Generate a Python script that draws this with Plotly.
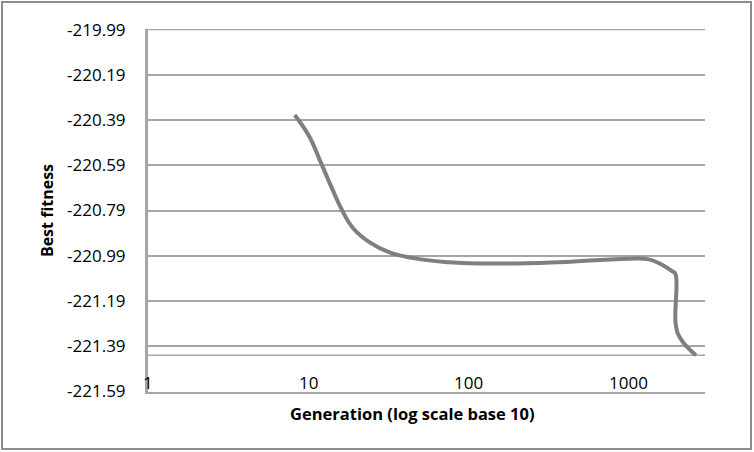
import plotly.graph_objects as go
import numpy as np

# Data
generations = [8.24, 10.2, 11.8, 14.2, 16.2, 18.9, 24.2, 32.2, 49.5, 76, 100, 200, 400, 1000, 1342, 1617, 1866, 1960, 1975, 2125, 2633]
best_fitness = [-220.368, -220.465, -220.566, -220.698, -220.786, -220.865, -220.931, -220.975, -221.005, -221.019, -221.023, -221.024, -221.018, -221.003, -221.006, -221.030, -221.058, -221.070, -221.30, -221.36, -221.43]

y_ticks = [-219.99, -220.19, -220.39, -220.59, -220.79, -220.99, -221.19, -221.39, -221.59]
x_ticks = [1, 10, 100, 1000]
axis_cross_value = -221.43

fig = go.Figure()
fig.add_trace(go.Scatter(
    x=generations, y=best_fitness, mode="lines",
    line=dict(color="#7f7f7f", width=4, shape="spline", smoothing=1.2),
    showlegend=False, hoverinfo="skip"))

grid_color = "#a6a6a6"
for yv in [axis_cross_value, y_ticks[0]]:
    fig.add_shape(type="line", xref="paper", x0=0, x1=1, yref="y",
                  y0=yv, y1=yv,
                  line=dict(color=grid_color, width=1.5), layer="below")

# outer chart border
fig.add_shape(type="rect", xref="paper", yref="paper",
              x0=-146/557, x1=(751-148)/557, y0=-(449-392)/363, y1=(392-2)/363,
              line=dict(color="#8c8c8c", width=2), fillcolor="rgba(0,0,0,0)")

# x tick labels sitting on the axis line
for v in x_ticks:
    fig.add_annotation(x=np.log10(v), y=0, xref="x", yref="paper",
                       text=str(v), showarrow=False, yanchor="bottom",
                       yshift=-4, font=dict(size=17))

# x axis title
fig.add_annotation(x=(412 - 148) / 557, y=0, xref="paper", yref="paper",
                   text="<b>Generation (log scale base 10)</b>", showarrow=False,
                   yanchor="middle", yshift=-21, font=dict(size=16.5))

font_family = "Open Sans"
fig.update_layout(
    width=754, height=452,
    margin=dict(l=148, r=49, t=29, b=60),
    paper_bgcolor="white", plot_bgcolor="white",
    font=dict(family=font_family, size=17, color="#000000"),
    xaxis=dict(
        type="log", range=[0, np.log10(3000)], automargin=False,
        showticklabels=False, ticks="",
        showgrid=False, zeroline=False,
        showline=True, linecolor=grid_color, linewidth=1.5,
    ),
    yaxis=dict(
        range=[-221.5925, -219.9875], automargin=False,
        tickvals=y_ticks, ticktext=[f"{v:.2f}" for v in y_ticks],
        showgrid=True, gridcolor=grid_color, gridwidth=1.5,
        zeroline=False, showline=True, linecolor="#a6a6a6", linewidth=3,
        ticks="", ticklabelstandoff=16,
        title=dict(text="<b>Best fitness</b>", standoff=10, font=dict(size=16)),
        tickfont=dict(size=17),
    ),
)

fig.write_html("out.html", config={"displayModeBar": False},
               post_script="document.body.style.margin='0';document.body.style.padding='0';")
